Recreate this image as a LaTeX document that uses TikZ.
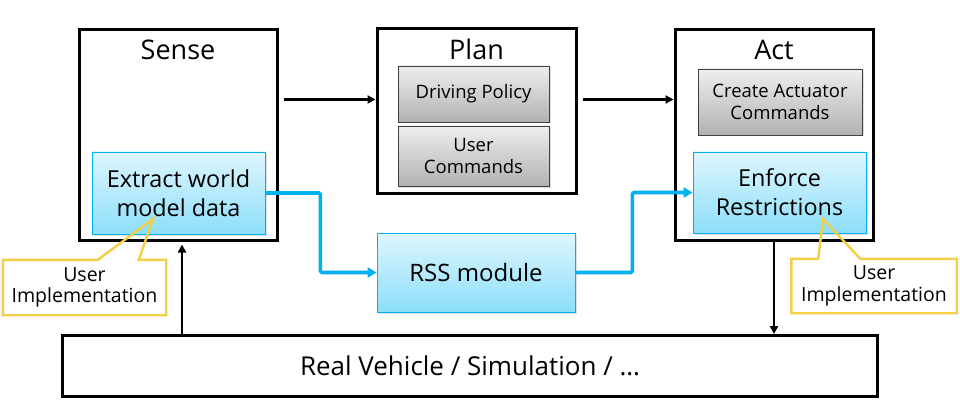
\documentclass[tikz,border=0pt]{standalone}
\usepackage{fontspec}
\setmainfont{Open Sans}
\usetikzlibrary{arrows.meta,positioning,shadows}
\definecolor{rssblue}{RGB}{0,176,240}
\definecolor{bluetop}{RGB}{222,246,254}
\definecolor{bluebot}{RGB}{140,222,250}
\definecolor{graytop}{RGB}{238,238,238}
\definecolor{graybot}{RGB}{178,178,178}
\definecolor{noteyellow}{RGB}{242,207,70}
\begin{document}
\begin{tikzpicture}[x=1pt, y=-1pt,
    stagebox/.style={draw, line width=3pt, inner sep=0pt, minimum width=198pt, minimum height=210pt},
    stagetitle/.style={font=\fontsize{27}{32}\selectfont, inner sep=0pt},
    bluebox/.style={draw=rssblue, line width=0.8pt, top color=bluetop, bottom color=bluebot,
        drop shadow={opacity=0.25, shadow xshift=1.5pt, shadow yshift=-1.5pt},
        inner sep=0pt, align=center, font=\fontsize{23.4}{29}\selectfont},
    graybox/.style={draw=black!75, line width=0.8pt, top color=graytop, bottom color=graybot,
        drop shadow={opacity=0.25, shadow xshift=1.5pt, shadow yshift=-1.5pt},
        inner sep=0pt, align=center, font=\fontsize{18.5}{22.5}\selectfont},
    notetext/.style={inner sep=0pt, align=center, font=\fontsize{19.5}{21.5}\selectfont},
    notebox/.style={draw=noteyellow, line width=2.4pt, line join=miter},
    flow/.style={-{Triangle[length=8pt,width=8pt]}, line width=2.8pt},
    blueflow/.style={-{Triangle[length=9pt,width=10pt]}, draw=rssblue, line width=3.6pt, rounded corners=1.5pt}]
    \useasboundingbox (0,0) rectangle (960,406);
    % stages
    \node[stagebox] (sense) at (178,135) {};
    \node[stagebox, minimum height=164pt, minimum width=199pt] (plan) at (476.5,111) {};
    \node[stagebox] (act) at (774,135) {};
    \foreach \n/\t in {sense/Sense, plan/Plan, act/Act}
        \node[stagetitle, below=11pt of \n.north] {\t};
    % inner blocks
    \node[bluebox, minimum width=173pt, minimum height=82pt] (ext) at (178.5,193) {Extract world\\model data};
    \node[graybox, minimum width=151pt, minimum height=56pt] (dp) at (473.5,94) {Driving Policy};
    \node[graybox, minimum width=151pt, minimum height=60pt] (uc) at (473.5,156) {User\\Commands};
    \node[graybox, minimum width=164pt, minimum height=66pt] (cac) at (780,102) {Create Actuator\\Commands};
    \node[bluebox, minimum width=173pt, minimum height=81pt] (enf) at (779.5,192.5) {Enforce\\Restrictions};
    \node[bluebox, minimum width=198pt, minimum height=79pt, font=\fontsize{24}{28}\selectfont] (rss) at (476,272.5) {RSS module};
    % vehicle / simulation
    \node[draw, line width=3pt, minimum width=815pt, minimum height=61pt, font=\fontsize{26}{30}\selectfont] (real) at (470,366) {Real Vehicle / Simulation / \dots};
    % arrows
    \draw[flow] ([xshift=5pt,yshift=-71pt]sense.north east) -- ([yshift=-72pt]plan.north west);
    \draw[flow] ([xshift=5pt,yshift=-72pt]plan.north east) -- ([yshift=-71pt]act.north west);
    \coordinate (upS) at ([xshift=4pt,yshift=-3pt]sense.south);
    \draw[flow] (real.north -| upS) -- (upS);
    \draw[flow] (act.south) -- (real.north -| act.south);
    \draw[blueflow] (ext.east) -- ++(55,0) |- (rss.west);
    \draw[blueflow] (rss.east) -- ++(57,0) |- (enf.west);
    % user implementation notes
    \node[notetext, minimum width=163pt, minimum height=55pt] (noteS) at (84.5,287.5) {User\\Implementation};
    \node[notetext, minimum width=165pt, minimum height=54pt] (noteA) at (874,286) {User\\Implementation};
    \coordinate (tipS) at (153,219);
    \coordinate (tipA) at (823,219);
    \draw[notebox] (noteS.north west) -- ([xshift=95pt]noteS.north west) -- (tipS)
        -- ([xshift=136pt]noteS.north west) -- (noteS.north east) -- (noteS.south east)
        -- (noteS.south west) -- cycle;
    \draw[notebox] (noteA.north west) -- ([xshift=27pt]noteA.north west) -- (tipA)
        -- ([xshift=69pt]noteA.north west) -- (noteA.north east) -- (noteA.south east)
        -- (noteA.south west) -- cycle;
\end{tikzpicture}
\end{document}
